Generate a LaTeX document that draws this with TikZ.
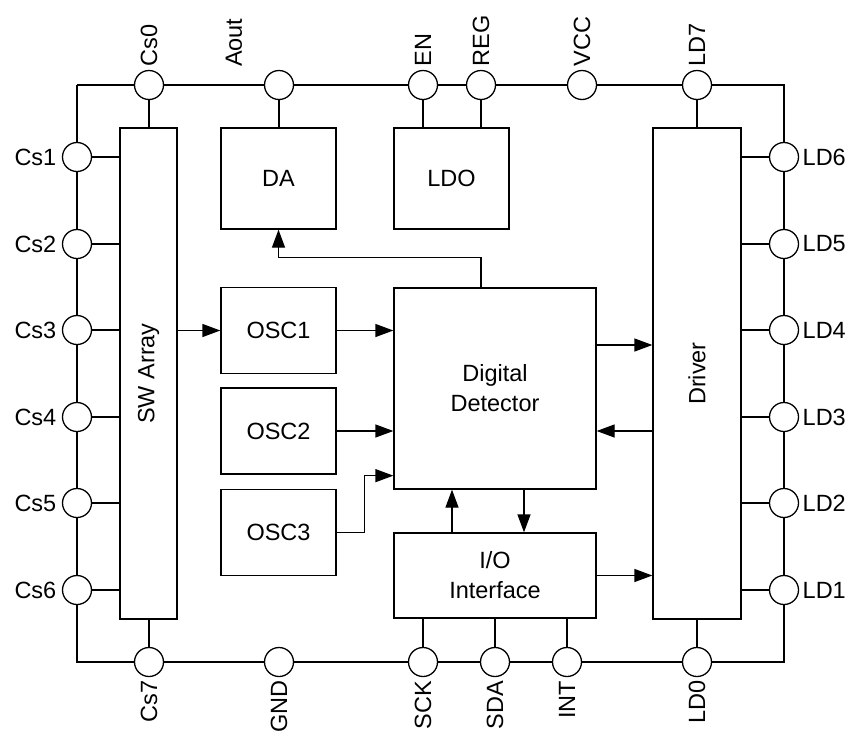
\documentclass[tikz,border=0pt]{standalone}
\usepackage{fontspec}
\setmainfont{Liberation Sans}
\usetikzlibrary{arrows.meta}

\tikzstyle{block} = [rectangle, draw, line width=1.3pt, minimum width=115pt,
  minimum height=86pt, inner sep=0pt, align=center]
\tikzstyle{pad} = [circle, draw, fill=white, line width=1.3pt,
  minimum size=29pt, inner sep=0pt]
\tikzstyle{toplbl} = [rotate=90, anchor=west]
\tikzstyle{botlbl} = [rotate=90, anchor=east]
\tikzstyle{wire} = [line width=1.3pt]
\tikzstyle{arrow} = [-{Triangle[length=18pt, width=13pt]}, line width=1.3pt]

\begin{document}
\begin{tikzpicture}[x=1pt, y=-1pt, font=\fontsize{23.5}{30}\selectfont]
  \useasboundingbox (0,0) rectangle (855,737);

  \node[block, minimum width=57pt, minimum height=491pt] (swa) at (148.5,373.5) {\rotatebox{90}{SW Array}};
  \node[block, minimum height=101pt] (da) at (278.5,178.5) {DA};
  \node[block, minimum height=101pt] (ldo) at (451.5,178.5) {LDO};
  \node[block, minimum width=88pt, minimum height=491pt] (driver) at (697,373.5) {\rotatebox{90}{Driver}};
  \node[block] (osc1) at (278.5,330.5) {OSC1};
  \node[block] (osc2) at (278.5,431) {OSC2};
  \node[block] (osc3) at (278.5,532.5) {OSC3};
  \node[block, minimum width=202pt, minimum height=201pt] (dd) at (495,388.5) {Digital\\Detector};
  \node[block, minimum width=202pt, minimum height=85pt] (io) at (495,575.5) {I/O\\Interface};

  % pads on the top and bottom edge
  \node[pad, label={[toplbl]above:Cs0}] (cs0) at (149,85) {};
  \node[pad] (aout) at (279,85) {};
  \node[toplbl] (aoutlbl) at (234,70.5) {Aout};
  \node[pad, label={[toplbl]above:EN}] (en) at (423,85) {};
  \node[pad, label={[toplbl]above:REG}] (reg) at (481,85) {};
  \node[pad, label={[toplbl]above:VCC}] (vcc) at (582,85) {};
  \node[pad, label={[toplbl]above:LD7}] (ld7) at (697,85) {};
  \node[pad, label={[botlbl]below:Cs7}] (cs7) at (149,662) {};
  \node[pad, label={[botlbl]below:GND}] (gnd) at (279,662) {};
  \node[pad, label={[botlbl]below:SCK}] (sck) at (423,662) {};
  \node[pad, label={[botlbl]below:SDA}] (sda) at (495,662) {};
  \node[pad, label={[botlbl]below:INT}] (int) at (567,662) {};
  \node[pad, label={[botlbl]below:LD0}] (ld0) at (697,662) {};

  % pads on the side edges
  \foreach \i/\j/\y in {1/6/157, 2/5/244, 3/4/330, 4/3/417, 5/2/503, 6/1/590} {
    \node[pad, label={[label distance=2pt]left:Cs\i}] (cs\i) at (77,\y) {};
    \node[pad, label=right:LD\j] (ld\j) at (784,\y) {};
    \draw[wire] (cs\i) -- (cs\i -| swa.west);
    \draw[wire] (ld\j) -- (ld\j -| driver.east);
  }

  \coordinate (tl) at (77,85);
  \coordinate (tr) at (784,85);
  \coordinate (br) at (784,662);
  \coordinate (bl) at (77,662);

  \draw[wire] (tl) -- (cs0) -- (aout) -- (en) -- (reg) -- (vcc) -- (ld7) -- (tr)
    -- (ld6) -- (ld5) -- (ld4) -- (ld3) -- (ld2) -- (ld1) -- (br)
    -- (ld0) -- (int) -- (sda) -- (sck) -- (gnd) -- (cs7) -- (bl)
    -- (cs6) -- (cs5) -- (cs4) -- (cs3) -- (cs2) -- (cs1) -- (tl);

  \draw[wire] (cs0) -- (cs0 |- swa.north);
  \draw[wire] (cs7) -- (cs7 |- swa.south);
  \draw[wire] (aout) -- (aout |- da.north);
  \draw[wire] (en) -- (en |- ldo.north);
  \draw[wire] (reg) -- (reg |- ldo.north);
  \draw[wire] (ld7) -- (driver.north);
  \draw[wire] (ld0) -- (driver.south);
  \draw[wire] (sck) -- (sck |- io.south);
  \draw[wire] (sda) -- (sda |- io.south);
  \draw[wire] (int) -- (int |- io.south);

  \draw[arrow] (swa.east |- osc1.west) -- (osc1.west);
  \draw[arrow] (osc1.east) -- (osc1.east -| dd.west);
  \draw[arrow] (osc2.east) -- (osc2.east -| dd.west);
  \draw[arrow] (osc3.east) -- ++(28,0) |- ([yshift=14pt]dd.south west);
  \draw[arrow] (dd.north -| reg) -- ++(0,-30) -| (da.south);
  \draw[arrow] ([yshift=43.5pt]dd.east) -- ([yshift=43.5pt]dd.east -| driver.west);
  \draw[arrow] (driver.west |- osc2.east) -- (dd.east |- osc2.east);
  \draw[arrow] ([xshift=-43pt]io.north) -- ([xshift=-43pt]dd.south);
  \draw[arrow] ([xshift=29pt]dd.south) -- ([xshift=29pt]io.north);
  \draw[arrow] (io.east) -- (io.east -| driver.west);

\end{tikzpicture}
\end{document}
